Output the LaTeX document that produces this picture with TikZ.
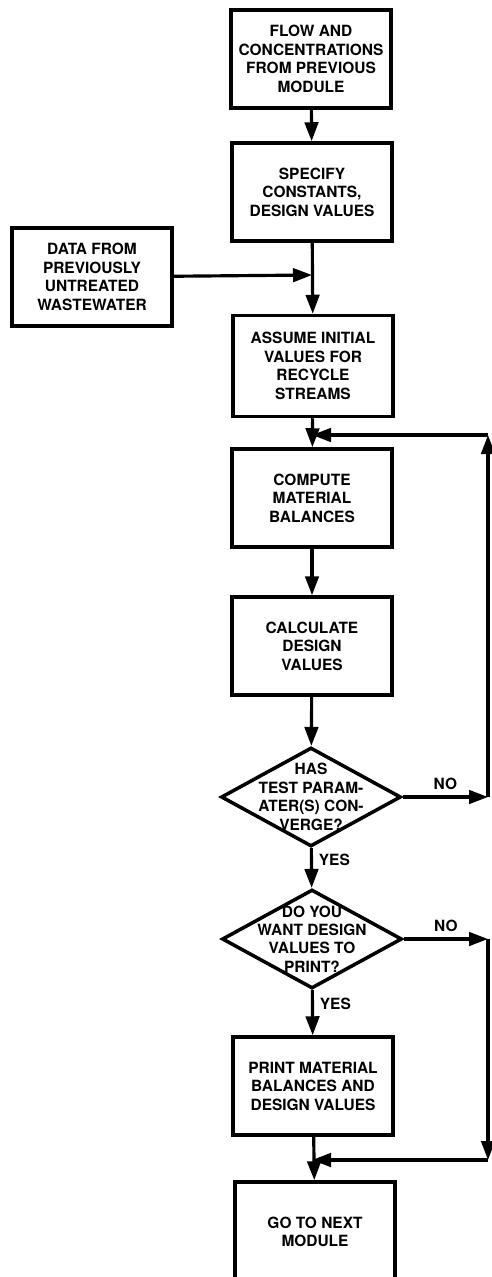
\documentclass[tikz,border=0pt]{standalone}
\usepackage{fontspec}
\setmainfont{TeX Gyre Heros}
\usetikzlibrary{shapes.geometric,arrows.meta}

\begin{document}
\begin{tikzpicture}[
        x=0.02cm, y=-0.02cm,
        every node/.style={font=\fontsize{8.8}{10.5}\selectfont\bfseries, align=center},
        box/.style={rectangle, draw, line width=2pt, minimum width=3.2cm, minimum height=1.96cm, inner sep=0pt},
        decision/.style={diamond, draw, line width=2pt, minimum width=3.6cm, minimum height=1.98cm, inner sep=0pt},
        flow/.style={line width=1.8pt, -{Triangle[length=0.38cm, width=0.27cm]}},
        plain/.style={line width=1.8pt}
    ]
        \useasboundingbox (0,0) rectangle (491,1277);

        % Boxes
        \node[box] (flowin) at (311, 59) {FLOW AND\\CONCENTRATIONS\\FROM PREVIOUS\\MODULE};
        \node[box] (specify) at (312, 192) {SPECIFY\\CONSTANTS,\\DESIGN VALUES};
        \node[box] (data) at (92, 277) {DATA FROM\\PREVIOUSLY\\UNTREATED\\WASTEWATER};
        \node[box, minimum height=2.02cm] (assume) at (313, 366) {ASSUME INITIAL\\VALUES FOR\\RECYCLE\\STREAMS};
        \node[box] (compute) at (312, 498) {COMPUTE\\MATERIAL\\BALANCES};
        \node[box] (calc) at (312, 646) {CALCULATE\\DESIGN\\VALUES};
        \node[decision, label={[align=center]center:HAS\\TEST PARAM-\\ATER(S) CON-\\VERGE?}] (conv) at (311, 797) {};
        \node[decision, label={[align=center]center:DO YOU\\WANT DESIGN\\VALUES TO\\PRINT?}] (want) at (312, 939) {};
        \node[box] (print) at (313, 1086) {PRINT MATERIAL\\BALANCES AND\\DESIGN VALUES};
        \node[box, minimum height=2cm] (next) at (315, 1232) {GO TO NEXT\\MODULE};

        % Junctions
        \coordinate (join1) at (312, 275);
        \coordinate (join2) at (312, 435);
        \coordinate (join3) at (312, 1160);
        \coordinate (noA) at (488, 797);
        \coordinate (noA top) at (488, 435);
        \coordinate (noB) at (488, 939);
        \coordinate (noB low) at (488, 1160);

        % Main line
        \draw[flow] (flowin) -- (specify);
        \draw[flow] (specify) -- (assume);
        \draw[flow] (data) -- (join1);
        \draw[flow] (assume) -- (compute);
        \draw[flow] (compute) -- (calc);
        \draw[flow] (calc) -- (conv);
        \draw[flow] (conv) -- node[right, pos=0.3] {YES} (want);
        \draw[flow] (want) -- node[right, pos=0.3] {YES} (print);
        \draw[flow] (print) -- (next);

        % Loop back (NO)
        \draw[flow] (conv.east) -- node[above] {NO} (noA);
        \draw[flow] (noA) -- (noA top);
        \draw[flow] (noA top) -- (join2);

        % Skip printing (NO)
        \draw[flow] (want.east) -- node[above] {NO} (noB);
        \draw[flow] (noB) -- (noB low);
        \draw[flow] (noB low) -- (join3);
    \end{tikzpicture}
\end{document}
